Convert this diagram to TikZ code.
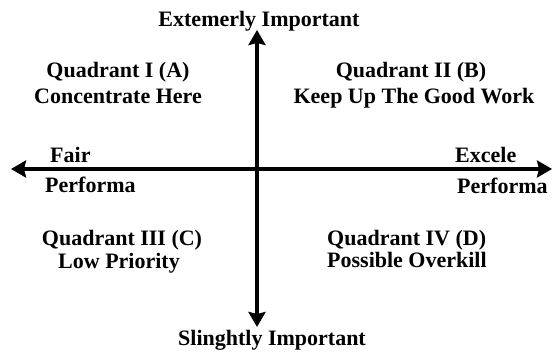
\documentclass[tikz,border=0pt]{standalone}
\usepackage{fontspec}
\setmainfont{Liberation Serif}
\usetikzlibrary{arrows.meta}
\begin{document}
\begin{tikzpicture}[x=1pt,y=-1pt,
  lbl/.style={font=\fontsize{22}{26}\selectfont\bfseries, inner sep=0pt, anchor=base},
  lblw/.style={lbl, anchor=base west},
  axis/.style={line width=4pt, -{Stealth[length=15pt,width=17pt,inset=2pt]}, shorten >=-1pt}]
  \useasboundingbox (0,0) rectangle (554,356);
  % axes end points
  \coordinate (top) at (257,31);
  \coordinate (bottom) at (257,326);
  \coordinate (left) at (12,169);
  \coordinate (right) at (551,169);
  \coordinate (centre) at (257,169);
  \draw[axis] (centre) -- (left);
  \draw[axis] (centre) -- (right);
  \draw[axis, line width=3.6pt] (centre) -- (top);
  \draw[axis, line width=3.6pt] (centre) -- (bottom);
  % axis labels
  \node[lbl] (imp) at (259,27) {Extemerly Important};
  \node[lbl] (slight) at (272,345) {Slinghtly Important};
  \node[lblw] (fair) at (50,162) {Fair};
  \node[lblw] (perfL) at (45,192) {Performa};
  \node[lblw] (exc) at (455,162) {Excele};
  \node[lblw] (perfR) at (457,193) {Performa};
  % quadrant labels
  \node[lbl] (q1a) at (118,77) {Quadrant I (A)};
  \node[lbl] (q1b) at (118,103) {Concentrate Here};
  \node[lbl] (q2a) at (411,77) {Quadrant II (B)};
  \node[lbl] (q2b) at (414,103) {Keep Up The Good Work};
  \node[lbl] (q3a) at (122,245) {Quadrant III (C)};
  \node[lbl] (q3b) at (119,268) {Low Priority};
  \node[lblw] (q4a) at (327,245) {Quadrant IV (D)};
  \node[lblw] (q4b) at (327,267) {Possible Overkill};
\end{tikzpicture}
\end{document}
